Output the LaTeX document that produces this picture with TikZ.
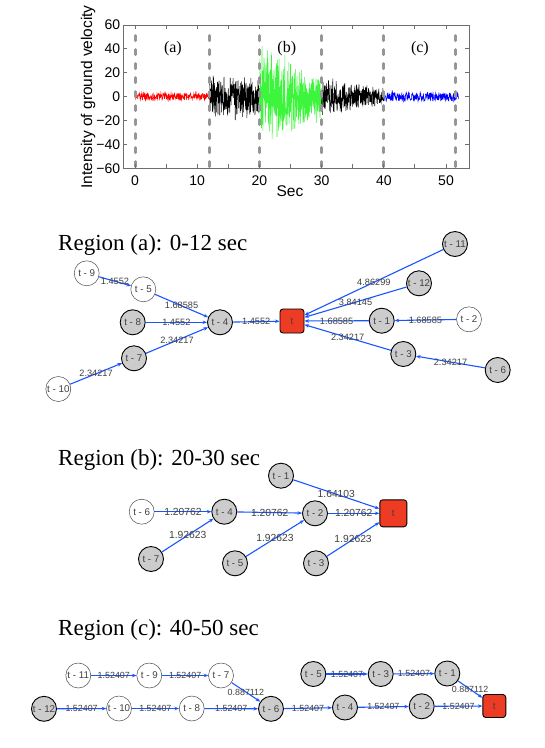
\documentclass[tikz,border=0pt]{standalone}
\usepackage{fontspec}
\setmainfont{Liberation Serif}
\setsansfont{Liberation Sans}
\usetikzlibrary{arrows.meta}
\definecolor{edgeblue}{RGB}{25,85,255}
\definecolor{tred}{RGB}{238,59,36}
\definecolor{nodegray}{RGB}{204,204,204}
\definecolor{sgreen}{RGB}{60,245,60}
\definecolor{dashgray}{RGB}{150,150,150}
\definecolor{axisgray}{RGB}{110,110,110}
\tikzset{
  nodefont/.style={font=\sffamily\fontsize{9.8}{10}\selectfont, text=black!75},
  gnode/.style={circle, draw=black, line width=0.9pt, fill=nodegray, minimum size=25pt, inner sep=0pt, nodefont},
  wnode/.style={circle, draw=black!70, line width=0.5pt, fill=white, minimum size=25pt, inner sep=0pt, nodefont},
  tnode/.style={rectangle, rounded corners=3pt, draw=black, line width=0.9pt, fill=tred, minimum size=24pt, inner sep=0pt, nodefont},
  link/.style={draw=edgeblue, line width=1.1pt, -{Stealth[length=4.5pt,width=3.5pt]}},
  wlab/.style={font=\sffamily\fontsize{9.2}{10}\selectfont, text=black!75, inner sep=0pt},
  regiontitle/.style={font=\fontsize{23}{26}\selectfont, anchor=base west, inner sep=0pt},
  sig/.style={line width=0.55pt},
  dashline/.style={draw=dashgray, line width=3pt, dash pattern=on 5pt off 9pt, line cap=round},
  axisline/.style={draw=axisgray, line width=0.9pt},
  ticklab/.style={font=\sffamily\fontsize{14}{15}\selectfont, inner sep=0pt},
  axlab/.style={font=\sffamily\fontsize{15.5}{17}\selectfont, inner sep=0pt},
  plab/.style={font=\fontsize{16}{18}\selectfont, inner sep=0pt},
}
\begin{document}
\begin{tikzpicture}[x=1pt,y=-1pt]
\useasboundingbox (0,0) rectangle (545,748);
\fill[white] (0,0) rectangle (545,748);

% ---------------- seismic plot ----------------
\begin{scope}[shift={(135,96.7)}, x=6.22pt, y=1.194pt]
  \pgfmathsetseed{7}
  \draw[sig, red] plot[domain=0:12, samples=241] (\x, {3*rand});
  \draw[sig, black] plot[domain=12:20, samples=281] (\x, {(22-0.3*(\x-12))*rand*(0.35+0.65*abs(rand))});
  \draw[sig, sgreen] plot[domain=20:30, samples=351] (\x, {(46-2.3*(\x-20))*rand*(0.4+0.6*abs(rand))});
  \draw[sig, black] plot[domain=30:40, samples=351] (\x, {(18-1.0*(\x-30))*rand*(0.35+0.65*abs(rand))});
  \draw[sig, blue] plot[domain=40:52, samples=241] (\x, {3.8*rand});
  \foreach \d in {0,12,20,30,40,51.5} \draw[dashline] (\d,-58.5) -- (\d,58.5);
  \draw[axisline] (-1.93,-60) rectangle (53.7,60);
  \foreach \t in {0,5,...,50} {
    \draw[axisline] (\t,-60) -- ++(0,3.5);
    \draw[axisline] (\t,60) -- ++(0,-3.5);
  }
  \foreach \v in {-60,-40,...,60} {
    \draw[axisline] (-1.93,\v) -- ++(0.6,0);
    \draw[axisline] (53.7,\v) -- ++(-0.6,0);
  }
  \foreach \v/\l in {60/60,40/40,20/20,0/0,-20/−20,-40/−40,-60/−60}
    \node[ticklab, anchor=east] (yt\v) at (-2.35,\v) {\l};
  \foreach \t in {0,10,20,30,40,50}
    \node[ticklab, anchor=north] (xt\t) at (\t,-66) {\t};
  \node[plab] (pa) at (6.1,40) {(a)};
  \node[plab] (pb) at (24.4,40) {(b)};
  \node[plab] (pc) at (45.8,40) {(c)};
\end{scope}
\node[axlab] (seclab) at (290,191) {Sec};
\node[axlab, rotate=90] (ylab) at (88,97) {Intensity of ground velocity};

% ---------------- Region (a) ----------------
\node[regiontitle] (ta) at (58,250) {Region (a): 0-12 sec};
\node[wnode] (a9) at (86.7,273.3) {t - 9};
\node[wnode] (a5) at (143.3,289.3) {t - 5};
\node[gnode] (a8) at (132.7,322.3) {t - 8};
\node[gnode] (a4) at (220,322.3) {t - 4};
\node[gnode] (a7) at (134,358.3) {t - 7};
\node[wnode] (a10) at (58.3,389) {t - 10};
\node[tnode] (at) at (292,321) {t};
\node[gnode] (a11) at (455,244) {t - 11};
\node[gnode] (a12) at (419,283.3) {t - 12};
\node[gnode] (a1) at (381.7,320.7) {t - 1};
\node[wnode] (a2) at (469,319.3) {t - 2};
\node[gnode] (a3) at (403.3,354) {t - 3};
\node[gnode] (a6) at (497.7,370) {t - 6};
\draw[link] (a9) -- node[wlab] (la1) {1.4552} (a5);
\draw[link] (a5) -- node[wlab] (la2) {1.68585} (a4);
\draw[link] (a8) -- node[wlab] (la3) {1.4552} (a4);
\draw[link] (a7) -- node[wlab] (la4) {2.34217} (a4);
\draw[link] (a10) -- node[wlab] (la5) {2.34217} (a7);
\draw[link] (a4) -- node[wlab] (la6) {1.4552} (at);
\draw[link] (a11) -- node[wlab] (la7) {4.86299} (at);
\draw[link] (a12) -- node[wlab] (la8) {3.84145} (at);
\draw[link] (a1) -- node[wlab] (la9) {1.68585} (at);
\draw[link] (a2) -- node[wlab] (la10) {1.68585} (a1);
\draw[link] (a3) -- node[wlab] (la11) {2.34217} (at);
\draw[link] (a6) -- node[wlab] (la12) {2.34217} (a3);

% ---------------- Region (b) ----------------
\node[regiontitle] (tb) at (58,465) {Region (b): 20-30 sec};
\begin{scope}[every node/.append style={minimum size=29pt}]
\node[gnode] (b1) at (281,475.7) {t - 1};
\node[wnode] (b6) at (141.7,511.7) {t - 6};
\node[gnode] (b4) at (224.3,511.7) {t - 4};
\node[gnode] (b2) at (315,513.3) {t - 2};
\node[tnode, minimum size=27pt] (bt) at (393.3,513.3) {t};
\node[gnode] (b7) at (151,559) {t - 7};
\node[gnode] (b5) at (235,563.3) {t - 5};
\node[gnode] (b3) at (316,563.3) {t - 3};
\end{scope}
\begin{scope}[wlab/.append style={font=\sffamily\fontsize{10.3}{11}\selectfont}]
\draw[link] (b1) -- node[wlab] (lb1) {1.64103} (bt);
\draw[link] (b6) -- node[wlab] (lb2) {1.20762} (b4);
\draw[link] (b4) -- node[wlab] (lb3) {1.20762} (b2);
\draw[link] (b2) -- node[wlab] (lb4) {1.20762} (bt);
\draw[link] (b7) -- node[wlab] (lb5) {1.92623} (b4);
\draw[link] (b5) -- node[wlab] (lb6) {1.92623} (b2);
\draw[link] (b3) -- node[wlab] (lb7) {1.92623} (bt);
\end{scope}

% ---------------- Region (c) ----------------
\node[regiontitle] (tc) at (58,635) {Region (c): 40-50 sec};
\begin{scope}[every node/.append style={minimum size=24pt}]
\node[wnode] (c11) at (78.3,675.5) {t - 11};
\node[wnode] (c9) at (149.3,675.5) {t - 9};
\node[wnode] (c7) at (221,675.5) {t - 7};
\node[gnode] (c12) at (44,708.8) {t - 12};
\node[wnode] (c10) at (119,708.5) {t - 10};
\node[wnode] (c8) at (191.7,708.5) {t - 8};
\node[gnode] (c6) at (271,708.8) {t - 6};
\node[gnode] (c5) at (313.3,674) {t - 5};
\node[gnode] (c3) at (380.7,674) {t - 3};
\node[gnode] (c1) at (447.3,673.5) {t - 1};
\node[gnode] (c4) at (345,707.5) {t - 4};
\node[gnode] (c2) at (421.7,706.3) {t - 2};
\node[tnode, minimum size=23pt] (ct) at (494.3,706) {t};
\end{scope}
\begin{scope}[wlab/.append style={font=\sffamily\fontsize{8.9}{10}\selectfont}]
\draw[link] (c11) -- node[wlab] (lc1) {1.52407} (c9);
\draw[link] (c9) -- node[wlab] (lc2) {1.52407} (c7);
\draw[link] (c7) -- node[wlab] (lc3) {0.887112} (c6);
\draw[link] (c12) -- node[wlab] (lc4) {1.52407} (c10);
\draw[link] (c10) -- node[wlab] (lc5) {1.52407} (c8);
\draw[link] (c8) -- node[wlab] (lc6) {1.52407} (c6);
\draw[link] (c5) -- node[wlab] (lc7) {1.52407} (c3);
\draw[link] (c3) -- node[wlab] (lc8) {1.52407} (c1);
\draw[link] (c1) -- node[wlab] (lc9) {0.887112} (ct);
\draw[link] (c6) -- node[wlab] (lc10) {1.52407} (c4);
\draw[link] (c4) -- node[wlab] (lc11) {1.52407} (c2);
\draw[link] (c2) -- node[wlab] (lc12) {1.52407} (ct);
\end{scope}
\end{tikzpicture}
\end{document}
